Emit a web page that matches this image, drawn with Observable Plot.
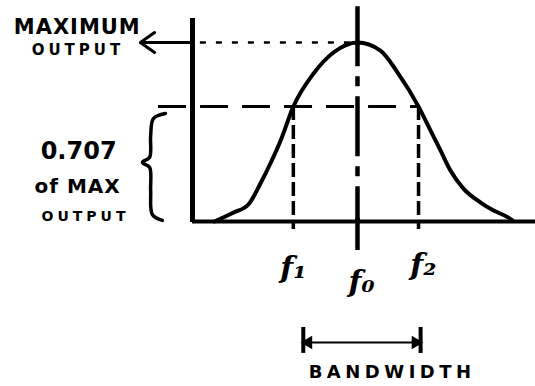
<!DOCTYPE html>
<html><head><meta charset="utf-8">
<script src="https://cdn.jsdelivr.net/npm/d3@7"></script>
<script src="https://cdn.jsdelivr.net/npm/@observablehq/plot@0.6"></script>
<style>
html,body{margin:0;padding:0;background:#fff;}
</style>
</head><body><div id="chart"></div>
<script>
// Response curve (frequency in arbitrary units, output relative to max)
const curveFreq = [6.4, 12.0, 16.3, 19.8, 22.7, 25.7, 29.4, 35.3, 41.1, 48.1, 54.8, 59.8, 65.9, 69.4, 72.3, 75.2, 79.0, 84.0, 87.8, 92.1, 93.3];
const curveOut  = [0.0, 0.05, 0.095, 0.212, 0.324, 0.453, 0.642, 0.827, 0.944, 1.0, 0.955, 0.832, 0.642, 0.508, 0.397, 0.285, 0.184, 0.106, 0.061, 0.022, 0.006];

// Reference frequencies
const freqNames  = ["f1", "f0", "f2"];
const freqLabels = ["f₁", "f₀", "f₂"];
const freqValues = [29.4, 48.1, 65.9];
const maxOutput = 1.0;
const halfPowerLevel = 0.642;   // drawn level of "0.707 of max output"
const bandwidthEnds = [32.3, 66.5];

// Brace beside the 0.707 label
const braceX = [-7.9, -11.4, -12.2, -12.5, -14.6, -12.5, -12.2, -11.7, -8.8];
const braceY = [0.603, 0.575, 0.48, 0.358, 0.33, 0.302, 0.173, 0.039, 0.006];

// Annotation texts and anchor points (data units)
const noteTexts = ["MAXIMUM", "OUTPUT", "0.707", "of MAX", "OUTPUT", "BANDWIDTH"];
const noteX = [-33.6, -33.4, -33.2, -33.5, -31.2, 58.2];
const noteY = [1.084, 0.955, 0.391, 0.196, 0.028, -0.844];
const noteSize = [21, 15, 24, 20, 14, 18];
const freqLabelX = [29.4, 49.3, 67.3];
const freqLabelY = [-0.263, -0.34, -0.246];

const curve = curveFreq.map((f, i) => ({f, v: curveOut[i]}));
const notes = noteTexts.map((t, i) => ({t, x: noteX[i], y: noteY[i], s: noteSize[i]}));
const fl = freqLabels.map((t, i) => ({t, x: freqLabelX[i], y: freqLabelY[i]}));
const ink = "#000";

const chart = Plot.plot({
  width: 535,
  height: 386,
  x: {domain: [0, 100], range: [192, 535], axis: null},
  y: {domain: [0, 1], range: [221, 42], axis: null},
  style: {background: "#fff", overflow: "visible"},
  marks: [
    // axes
    Plot.ruleX([0], {y1: 1.134, y2: -0.006, stroke: ink, strokeWidth: 5}),
    Plot.ruleY([0], {x1: 0, x2: 100, stroke: ink, strokeWidth: 4}),
    // max output dotted line
    Plot.ruleY([maxOutput], {x1: 2.3, x2: freqValues[1], stroke: ink, strokeWidth: 2.5, strokeDasharray: "6,10"}),
    // half power dashed line
    Plot.ruleY([halfPowerLevel], {x1: -9.9, x2: freqValues[2], stroke: ink, strokeWidth: 3, strokeDasharray: "28,14"}),
    // f1, f2 dashed verticals
    Plot.ruleX([freqValues[0], freqValues[2]], {y1: halfPowerLevel, y2: -0.045, stroke: ink, strokeWidth: 3.5, strokeDasharray: "14,5"}),
    // f0 dash-dot centre line
    Plot.ruleX([freqValues[1]], {y1: 1.2, y2: 0, stroke: ink, strokeWidth: 4.5, strokeDasharray: "60,10,10,10"}),
    Plot.ruleX([freqValues[1]], {y1: 0.02, y2: -0.162, stroke: ink, strokeWidth: 4.5}),
    // curve
    Plot.line(curve, {x: "f", y: "v", curve: "monotone-x", stroke: ink, strokeWidth: 4}),
    // arrow from MAXIMUM OUTPUT label
    Plot.arrow([maxOutput], {x1: 0, x2: -15.2, y1: d => d, y2: d => d, stroke: ink, strokeWidth: 3, headLength: 10, headAngle: 70}),
    // brace
    Plot.line(braceX.map((x, i) => ({x, y: braceY[i]})), {x: "x", y: "y", curve: "catmull-rom", stroke: ink, strokeWidth: 3.5}),
    // bandwidth arrow
    Plot.ruleY([-0.676], {x1: bandwidthEnds[0], x2: bandwidthEnds[1], stroke: ink, strokeWidth: 2}),
    Plot.ruleX(bandwidthEnds, {y1: -0.592, y2: -0.737, stroke: ink, strokeWidth: 4}),
    Plot.dot([bandwidthEnds[0]], {x: d => d, y: -0.676, symbol: "triangle", rotate: -90, r: 5, fill: ink, stroke: null, dx: 5}),
    Plot.dot([bandwidthEnds[1]], {x: d => d, y: -0.676, symbol: "triangle", rotate: 90, r: 5, fill: ink, stroke: null, dx: -5}),
    // labels
    Plot.text(notes, {x: "x", y: "y", text: "t", fontSize: "s", fontWeight: "bold", fontFamily: "DejaVu Sans", fill: ink, textAnchor: "middle", lineAnchor: "middle"}),
    Plot.text(fl, {x: "x", y: "y", text: "t", fontSize: 30, fontWeight: "bold", fontStyle: "italic", fontFamily: "DejaVu Serif", fill: ink, textAnchor: "middle", lineAnchor: "middle"})
  ]
});

const spacing = {"MAXIMUM": 1, "OUTPUT": 4, "0.707": 0, "of MAX": 1, "BANDWIDTH": 4.5};
d3.select(chart).selectAll("text").each(function() {
  const t = this.textContent;
  if (spacing[t] != null) this.setAttribute("letter-spacing", spacing[t]);
});
document.getElementById("chart").appendChild(chart);
</script>
</body></html>
